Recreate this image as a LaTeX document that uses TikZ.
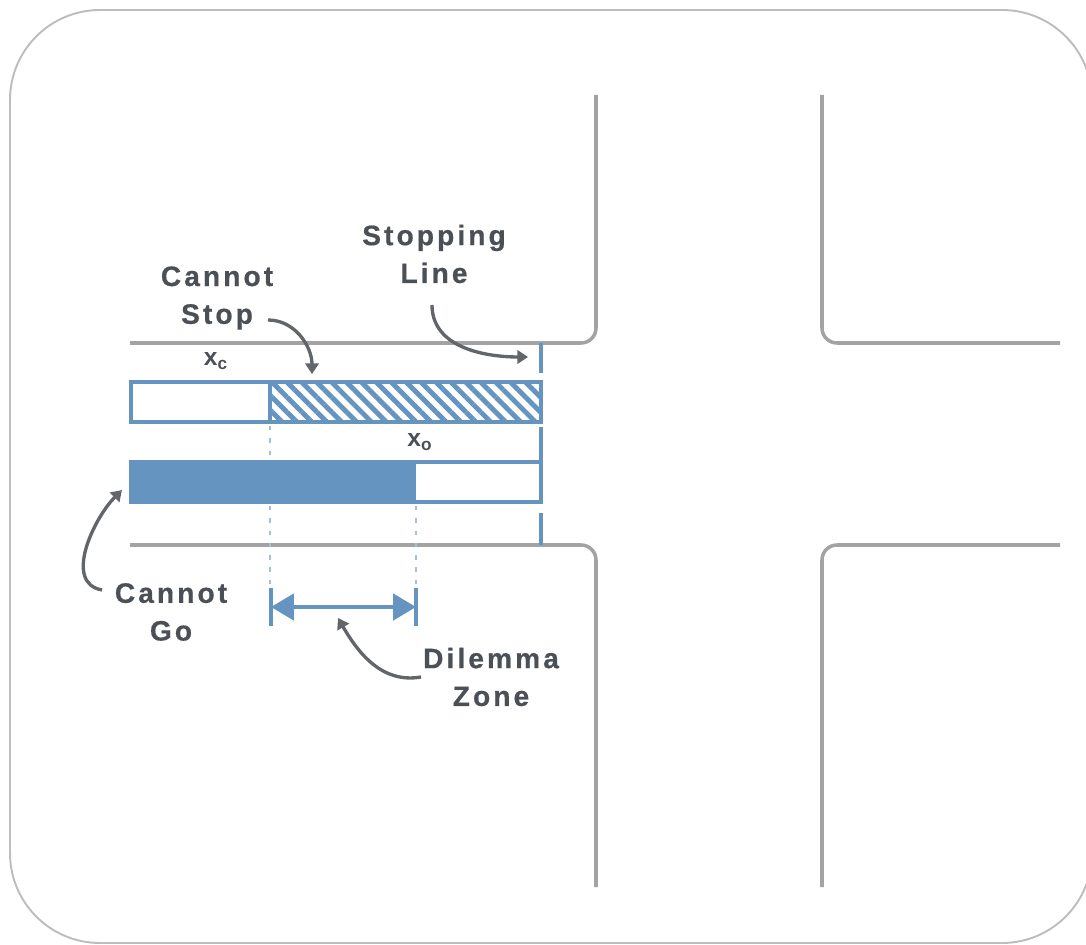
\documentclass[tikz,border=0pt]{standalone}
\usepackage{fontspec}
\setmainfont{Liberation Sans}
\usetikzlibrary{arrows.meta,patterns.meta}
\definecolor{laneblue}{HTML}{6694C1}
\definecolor{laneblue2}{HTML}{A3BFDC}
\definecolor{roadgrey}{HTML}{A3A3A3}
\definecolor{framegrey}{HTML}{BDBDBD}
\definecolor{inkgrey}{HTML}{4B5057}
\definecolor{pointgrey}{HTML}{626569}

\begin{document}
\begin{tikzpicture}[
  x=0.02cm, y=-0.02cm,
  road/.style={roadgrey, line width=2pt, rounded corners=0.3cm},
  bar/.style={draw=laneblue, line width=2.1pt},
  stopln/.style={laneblue, line width=2pt},
  guide/.style={laneblue2, line width=1.5pt, dash pattern=on 2.5pt off 4.5pt},
  lbl/.style={font=\fontsize{16}{21.5}\selectfont\bfseries\addfontfeature{LetterSpace=11,FakeBold=0.6},
              text=inkgrey, align=center, inner sep=0pt},
  sym/.style={font=\fontsize{14}{14}\selectfont\bfseries, text=inkgrey, inner sep=0pt},
  callout/.style={-{Triangle[length=6pt,width=7.5pt]}, pointgrey, line width=1.9pt},
  span/.style={{Triangle[length=13pt,width=15pt]}-{Triangle[length=13pt,width=15pt]},
               laneblue, line width=2pt},
]
\useasboundingbox (0,0) rectangle (1086,945);
\clip (0,0) rectangle (1086,945);
\draw[framegrey, line width=1.1pt, rounded corners=1.8cm] (10,10) rectangle (1092,943);

% road edges
\draw[road] (130,343) -- (596,343) -- (596,95);
\draw[road] (1060,343) -- (822,343) -- (822,95);
\draw[road] (130,545) -- (596,545) -- (596,887);
\draw[road] (1060,545) -- (822,545) -- (822,887);

% stopping distance bar
\path[pattern={Lines[angle=-45,distance=6pt,line width=2.8pt]}, pattern color=laneblue]
  (270,382) rectangle (541,422);
\draw[bar] (131,382) rectangle (541,422);
\draw[bar] (270,382) -- (270,422);
% clearing distance bar
\fill[laneblue] (131,462) rectangle (416,502);
\draw[bar] (131,462) rectangle (541,502);

% stopping line
\draw[stopln] (541,343) -- (541,373);
\draw[stopln] (541,427) -- (541,462);
\draw[stopln] (541,513) -- (541,545);

% guides down to the zone
\draw[guide] (270,426) -- (270,460);
\draw[guide] (270,506) -- (270,585);
\draw[guide] (416,506) -- (416,585);

% dilemma zone span
\coordinate (dzL) at (271,607);
\coordinate (dzR) at (416,607);
\draw[bar] (271,588) -- (271,626);
\draw[bar] (416,588) -- (416,626);
\draw[span] (dzL) -- (dzR);

% labels
\node[lbl] (stopline) at (434,254) {Stopping\\Line};
\node[lbl] (nostop) at (217,298) {Cannot\\Stop};
\node[lbl] (nogo) at (171,612) {Cannot\\Go};
\node[lbl] (dilemma) at (491,677) {Dilemma\\Zone};
\node[sym] (xc) at (216,361) {x\textsubscript{c}};
\node[sym] (xo) at (420,442) {x\textsubscript{o}};

% callouts
\coordinate (nostopTip) at (312,374);
\coordinate (stoplineTip) at (528,357);
\coordinate (nogoTip) at (122,490);
\coordinate (dilemmaTip) at (338,618);
\draw[callout] ([shift={(51,22)}]nostop.center) to[out=0,in=90] (nostopTip);
\draw[callout] ([shift={(-2,51)}]stopline.center) to[out=-90,in=180] (stoplineTip);
\draw[callout] ([shift={(-69,-22)}]nogo.center) to[out=170,in=225] (nogoTip);
\draw[callout] ([shift={(-70,0)}]dilemma.center) to[out=190,in=-60] (dilemmaTip);
\end{tikzpicture}
\end{document}
